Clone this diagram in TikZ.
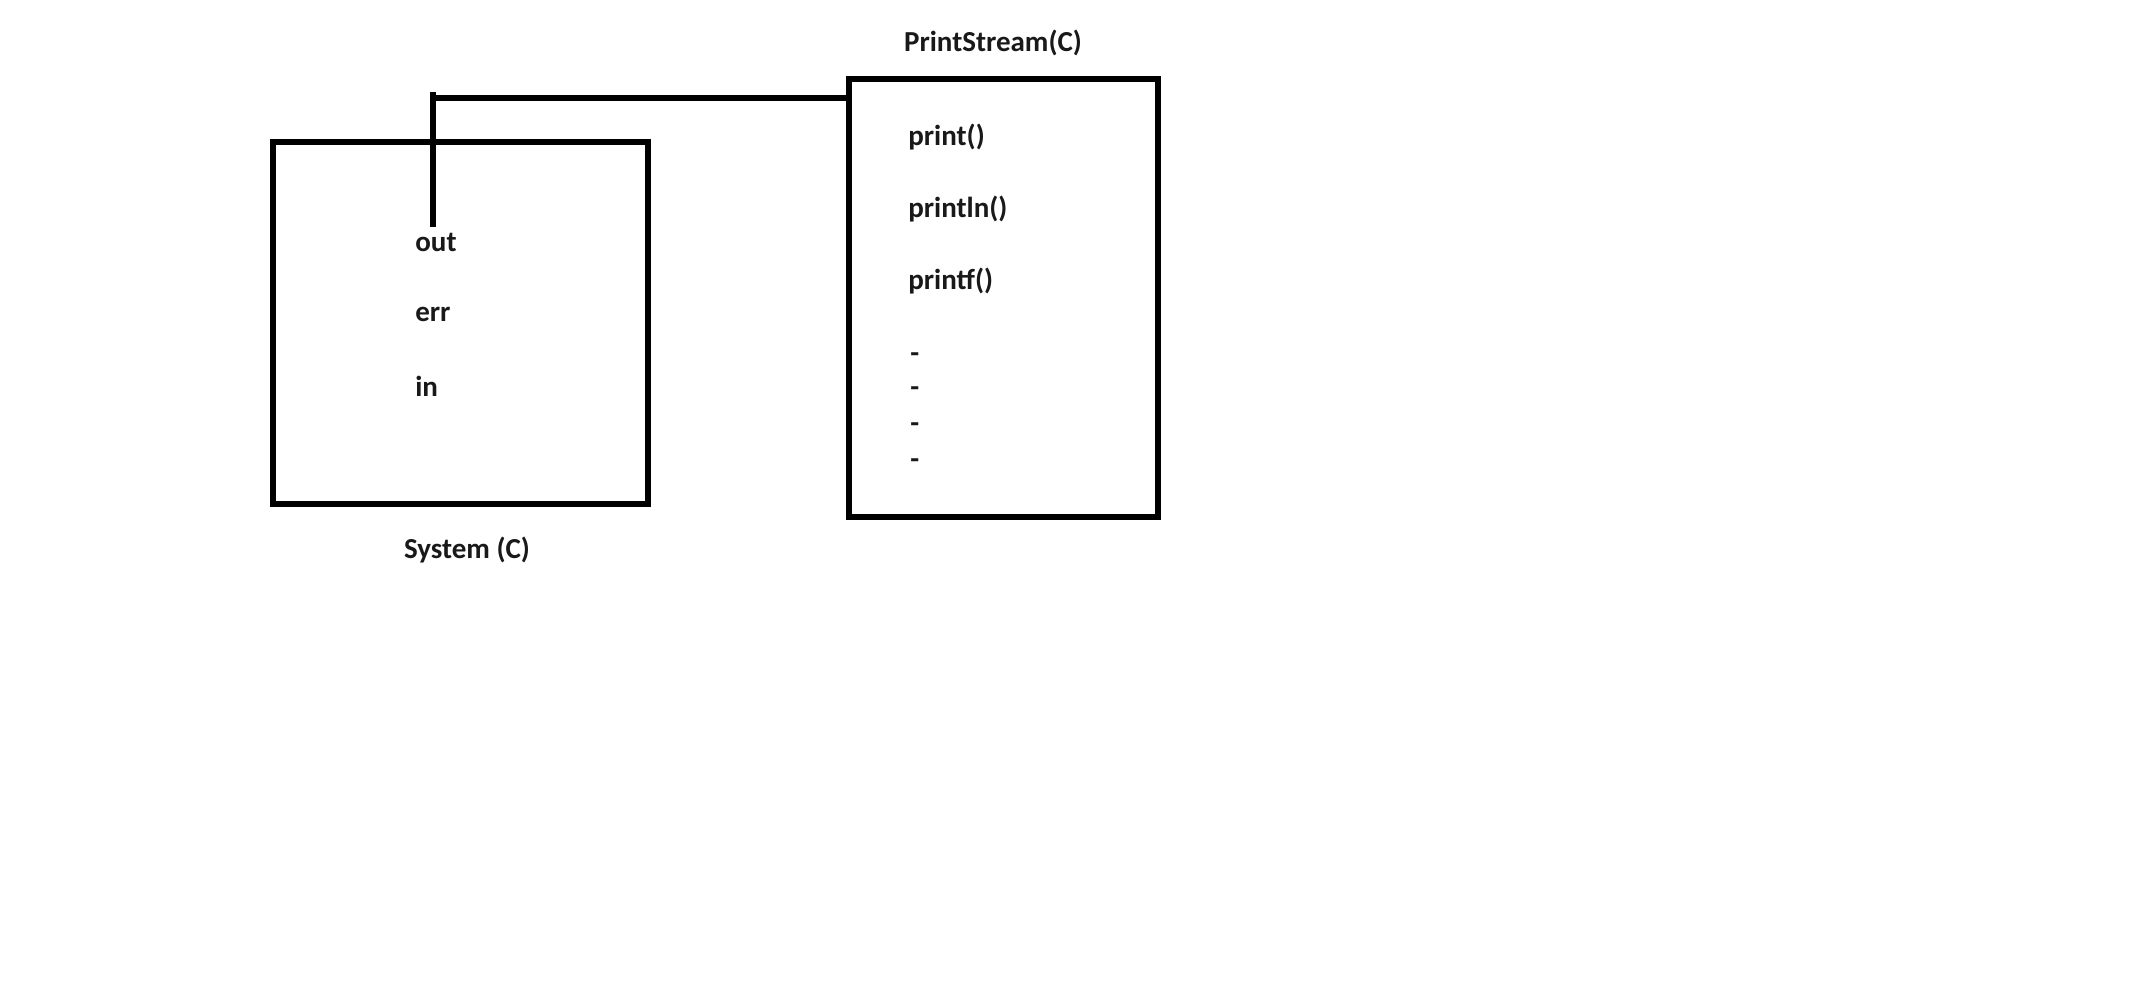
\documentclass[tikz,border=0pt]{standalone}
\usepackage{fontspec}
\setmainfont{Carlito}
\usetikzlibrary{positioning, calc}

\tikzset{
	member/.style={anchor=west, inner sep=0pt, font=\fontsize{16.5}{19}\selectfont\bfseries, text=black!90},
	title/.style={inner sep=0pt, font=\fontsize{16.5}{19}\selectfont\bfseries, text=black!90},
	frame/.style={line width=3pt},
	wire/.style={line width=3pt}
}

\begin{document}
\begin{tikzpicture}[x=0.02cm, y=-0.02cm, line join=miter]
% canvas
\fill[white] (0,0) rectangle (2156,997);
\useasboundingbox (0,0) rectangle (2156,997);

%========================
% Left: System class
%========================
\draw[frame] (273,142) rectangle (648,504);
\node[title] (systitle) at (467,550) {System (C)};
\node[member] (out) at (415,242) {out};
\node[member] (err) at (415,314) {err};
\node[member] (in)  at (415,386) {in};

%========================
% Right: PrintStream class
%========================
\draw[frame] (849,79) rectangle (1158,517);
\coordinate (psW) at (849,79);
\node[title] (pstitle) at (993,43) {PrintStream(C)};
\node[member] (print)   at (908,137) {print()};
\node[member] (println) at (908,209) {println()};
\node[member] (printf)  at (908,281) {printf()};
% placeholders for the rest
\foreach \y [count=\i] in {358,392,428,464}
	\node[member] (more\i) at (910,\y) {-};

% reference from out to PrintStream
\coordinate (outtip) at (433,227);
\coordinate (vtop) at (433,92);
\coordinate (bend) at (433,98);
\draw[wire] (outtip) -- (vtop);
\draw[wire] (bend) -- (bend -| psW);
\end{tikzpicture}
\end{document}
